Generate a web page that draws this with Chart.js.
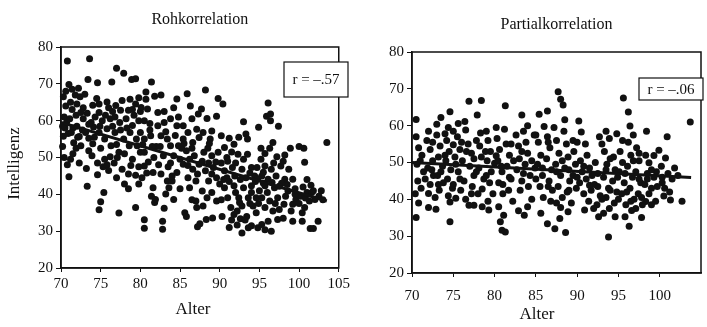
<!DOCTYPE html>
<html>
<head>
<meta charset="utf-8">
<script src="https://cdn.jsdelivr.net/npm/chart.js@4.4.0/dist/chart.umd.min.js"></script>
<style>
  body { margin: 0; background: #fff; width: 707px; height: 327px; overflow: hidden; position: relative; }
  canvas { position: absolute; top: 0; }
</style>
</head>
<body>
<canvas id="roh" width="353" height="327" style="left:0"></canvas>
<canvas id="part" width="354" height="327" style="left:353px"></canvas>
<script>
// Achsen
const alterTicksRoh = [70, 75, 80, 85, 90, 95, 100, 105];
const alterTicksPart = [70, 75, 80, 85, 90, 95, 100];
const intelTicks = [20, 30, 40, 50, 60, 70, 80];

// Rohkorrelation: [Alter, Intelligenz]
const rohPunkte = [
  [70.8,76.2],[70.3,66.5],[70.6,68],[71.0,69.8],[71.4,68.5],[71.8,67],[72.2,68.8],[72.4,66.5],[70.4,61],[70.7,59.5],
  [71.1,60.5],[71.5,58],[71.9,61.5],[70.3,55.8],[70.9,56.5],[71.6,54],[72.1,55.5],[70.4,50],[70.8,48],[71.2,49.5],
  [71.0,44.8],[71.9,52.5],[72.3,48.5],[70.2,53],[71.4,63],[70.6,64],
  [73.6,76.8],[73.4,71.2],[73.0,67.2],[74.0,64.2],[74.8,64.5],[73.3,62],[72.8,60.5],[74.3,61],[74.1,58.3],[73.1,56.8],
  [74.8,56.8],[74.0,53.7],[75.0,52.5],[73.5,51.8],[73.2,47],[73.3,42.2],[74.6,48.5],[74.6,45.3],[75.0,38],[74.8,35.8],
  [75.4,40.5],[72.3,55.7],[72.5,53.2],[73.8,59.5],[72.8,63.5],[74.5,66],[74.6,70.3],[75.2,60],[75.5,55],[73.9,50.5],
  [75.3,47.5],[75.5,49.5],
  [76.4,70.5],[77.0,74.2],[77.9,72.9],[78.9,71.2],[79.4,71.4],[76.9,64.1],[77.7,65.5],[78.7,65.8],[79.4,64.5],[79.8,66.2],
  [80.0,62.5],[75.8,65.1],[76.2,60.5],[77.4,59.5],[78.2,60.5],[79.0,58.7],[79.8,60],[75.8,57.8],[76.8,56.8],[77.9,55],
  [78.7,56.8],[79.5,55],[76.3,53.2],[77.3,51.4],[78.6,53.2],[79.6,53.2],[80.0,51.4],[76.2,50.2],[75.8,48],[77.1,50],
  [77.7,46.8],[78.5,45.5],[78.0,42.8],[78.5,41.5],[79.8,42.8],[79.4,45.2],[77.3,34.9],[79.4,36.4],[76.5,62.5],[78.5,62.8],
  [77.5,57.5],[80.0,56.8],[76.0,46.5],[77.0,44.5],
  [80.7,67.8],[81.4,70.5],[80.7,65.8],[80.1,63.6],[80.9,63.2],[81.8,66.6],[82.6,67],[82.2,58.6],[83.0,59.5],[83.8,60.5],
  [84.2,63.5],[84.6,65.9],[84.6,58.6],[80.5,55],[81.3,55.9],[82.6,55.9],[83.4,55],[83.8,53.2],[84.8,53.2],[80.5,51.4],
  [81.7,50],[82.9,50.5],[84.2,50.5],[85.0,49.5],[80.5,47.7],[81.6,45.9],[82.6,45.5],[83.4,43.6],[84.6,45.9],[81.6,41.8],
  [81.4,39.5],[81.8,37.8],[81.9,38.6],[80.5,33.1],[80.5,30.8],[82.8,32.7],[82.8,30.5],[83.0,36.2],[83.2,40.1],[83.6,41.8],
  [84.0,43.6],[84.2,38.6],[81.0,48.8],[82.0,53],[83.5,47.5],[80.2,44.5],[82.2,62.2],[81.2,59.2],
  [85.9,67.3],[86.3,64],[87.7,63.2],[87.3,61.8],[88.2,68.3],[88.4,60.6],[89.6,61.2],[89.8,66],[85.4,58.6],[86.0,56.8],
  [87.1,57.7],[87.9,56.8],[89.0,57.2],[85.4,55],[86.6,54.1],[87.4,55.4],[88.8,55],[85.8,51.8],[86.8,50.5],[88.0,51.4],
  [89.0,50.5],[89.8,51.4],[85.4,48.2],[86.6,46.8],[87.4,48.2],[88.2,46.4],[89.2,47.3],[86.0,44.5],[87.0,43.6],[88.6,43.6],
  [89.6,44.5],[86.2,41.8],[87.8,40.9],[89.0,40.5],[87.0,38.2],[88.4,39.1],[89.6,38.2],[85.6,35],[85.8,34],[87.2,31.2],
  [87.5,32],[88.3,33.2],[89.1,33.6],[87.1,36.4],[87.9,36.8],[86.5,60.5],[88.5,52.5],[85.2,52.5],
  [90.4,64.5],[90.2,55.9],[91.2,55.2],[92.4,55.5],[93.0,59.7],[93.3,56.4],[93.5,55],[94.9,58.2],[90.6,52.7],[91.8,53.6],
  [90.9,50],[92.3,50.9],[93.5,50.9],[90.6,46.4],[91.6,47.3],[92.8,46.8],[94.0,47.3],[90.9,44.5],[91.9,45],[93.3,44.5],
  [94.4,45],[90.6,41.8],[91.8,42.3],[93.0,41.8],[94.0,42.3],[91.0,39.1],[92.4,39.1],[93.6,39.1],[94.6,39.1],[91.4,36.4],
  [92.8,36.8],[94.2,36.8],[91.8,34.5],[93.4,34],[94.6,35],[91.2,31],[92.2,31.7],[92.8,29.5],[93.6,30.9],[94.0,31.5],
  [94.8,30.9],[90.3,34],[91.5,33],[92.6,33.4],[93.2,33],[90.5,44],[92.0,48.5],[94.5,43.5],[93.8,37.5],
  [96.1,64.8],[95.9,61.2],[96.4,61.8],[96.4,60],[97.4,58.5],[95.2,52.5],[96.3,52.5],[96.7,54.1],[95.7,51.1],[97.2,50.2],
  [98.2,50.7],[98.9,52.5],[95.2,49.5],[94.7,47.3],[95.7,47.7],[96.5,46.8],[97.7,47.7],[98.7,46.8],[95.3,45],[96.1,44.1],
  [97.1,45],[98.2,44.1],[99.2,44.1],[95.7,42.3],[96.9,41.8],[98.5,42.7],[95.3,39.1],[96.3,38.2],[97.3,39.1],[98.1,37.3],
  [98.6,40.9],[99.2,37.3],[99.6,38.6],[95.7,36.4],[96.7,35.5],[97.5,35.9],[96.1,32.7],[97.3,33.2],[95.7,30.4],[96.5,30],
  [95.3,31.8],[99.2,32.7],[97.8,43],[99.5,41.5],[98.0,49],
  [100.0,53],[100.6,52.5],[100.7,48.7],[103.5,54.1],[100.4,35],[100.7,36.4],[100.4,32.7],[101.4,30.7],[101.8,30.7],[102.4,32.7],
  [101.0,40.5],[101.6,40.5],[101.8,41],[102.8,41],[102.0,38.6],[101.3,38.2],[100.2,39.5],[100.5,42],[101.0,44],[102.5,39.5],
  [103.0,38.5],
  [70.5,58],[71.3,56.8],[72.0,58.5],[72.7,57.5],[73.5,59],[74.2,55.5],[74.9,58.5],[75.6,61.5],[76.0,63.5],[76.8,61],
  [77.5,62.8],[78.3,58],[79.2,61.5],[79.0,63],[76.5,58.5],[77.0,53.5],[78.0,51],[79.0,49.5],[79.8,47.5],[76.7,48.5],
  [80.5,60],[81.2,57.5],[82.5,53],[83.2,57],[84.4,56],[85.5,53.8],[84.8,61],[83.0,62.5],[81.5,53],[80.3,53.5],
  [82.3,48],[83.8,48.5],[84.0,45],[86.2,49.5],[87.8,49],[86.5,52.5],[88.6,48.5],[89.5,48.8],[87.2,45.5],[89.0,45.5],
  [90.2,48.5],[91.0,49],[92.6,44],[93.8,45.8],[94.8,44.2],[95.5,43],[96.6,43.2],[97.5,42.2],[96.0,40.5],[97.0,37.5],
  [98.3,39.5],[99.5,40],[100.8,39],[95.0,41],[94.0,40.5],[92.0,40.5],[91.2,43.5],[90.0,42.8],[92.5,37.8],[94.9,37.5],
  [96.8,48.5],[95.5,46],[93.0,49.5],[91.5,51.5],[88.7,53.8],[86.0,47.8],[73.5,55.2],[72.5,62.2],[71.2,65],[72.0,64.5],
  [74.8,62.2],[70.2,58.5],[71.5,51],[78.8,47.8],[80.8,45.8],[85.0,41.5],[86.5,38.5],[90.2,38.5],[92.2,35.5],[99.0,35.5],
  [98.0,33.5],[100.0,37.5],[101.5,42.5]
];
const rohLinie = [[70, 59.5], [103.5, 38.2]];

// Partialkorrelation: [Alter, Intelligenz]
const partPunkte = [
  [76.9,66.6],[78.4,66.8],[81.3,65.4],[74.6,63.8],[73.5,62.2],[75.6,60.6],[76.4,61.1],[77.9,62.9],[83.3,62.9],[85.4,63.1],
  [86.4,64],[87.7,69.2],[88.0,67.2],[88.3,65.6],[90.2,61.3],[90.5,58.3],[88.5,61.6],[95.6,67.5],[96.2,63.7],[96.4,59.9],
  [98.4,58.5],[100.9,57],[103.7,61],[70.5,61.7],[72.0,58.5],[73.0,60.4],[75.0,58.5],[78.3,58],
  [70.5,35.1],[72.0,41.6],[72.0,37.8],[72.9,37.3],[74.6,33.9],[74.6,39.3],[75.3,40.3],[76.9,38.4],[77.5,38.4],[78.5,38],
  [79.3,37.1],[80.5,38],[80.7,33.9],[80.9,31.6],[81.3,31.1],[81.1,35.7],[82.9,36.9],[83.6,35.7],[85.6,36.2],[86.4,33.4],
  [87.3,32],[88.6,31],[87.9,34.8],[88.9,36.6],[90.9,37.1],[92.6,35.3],[93.2,36.2],[93.8,29.8],[94.6,35.3],[95.8,35.3],
  [96.3,32.7],[97.1,37.5],[97.8,35.1],[98.3,39.4],[99.5,39.5],[100.5,40.9],[101.3,39.8],[102.7,39.5],[101.8,48.5],[100.7,51.2],
  [99.9,53.3],[99.3,51.9],[98.7,49.9],
  [70.5,57],[70.8,54],[71.2,52],[70.6,49.5],[71.4,47.5],[70.7,45],[71.1,43],[70.4,41.5],[71.8,56],[72.2,53.5],
  [72.5,50.5],[71.9,48.5],[72.6,46.5],[72.2,44],[73.0,57.5],[73.4,54.5],[73.2,51.5],[73.7,49],[73.1,46.5],[73.8,44.5],
  [73.3,42.5],[74.2,56],[74.5,53],[74.1,50.5],[74.7,48],[74.3,45.5],[74.9,43],[74.4,41],[75.0,54.8],[75.2,51.5],
  [72.8,40.5],[74.4,59.5],
  [75.5,57],[75.8,53.5],[76.1,50.5],[75.6,47.5],[76.3,45],[75.9,42.5],[76.5,40],[76.8,55],[77.2,52.5],[77.0,49],
  [77.5,46.5],[77.3,43.5],[78.0,41.5],[78.2,54.5],[78.4,51.5],[78.1,48.5],[78.7,45.5],[78.5,42.8],[79.2,56],[79.5,53],
  [79.1,50.5],[79.6,47.5],[79.4,44.5],[79.8,41.5],[80.0,49.8],[79.0,58.5],[76.5,58.8],
  [80.3,56.5],[80.6,53.5],[80.4,50.5],[80.9,47.5],[80.5,44.5],[81.0,41.5],[81.4,55],[81.8,52],[81.5,49],[82.0,45.5],
  [81.7,42.5],[82.2,39.5],[82.6,57.5],[82.9,54.5],[83.0,51],[82.7,48],[83.3,45],[83.1,42.5],[83.8,55.5],[84.0,52.5],
  [83.7,49.5],[84.3,46.5],[84.1,43.5],[84.5,40],[84.8,57.5],[84.9,48.5],[81.2,59],[83.5,58.5],
  [85.3,55.5],[85.6,52],[85.2,49.5],[85.8,46.5],[85.5,43.5],[85.9,40.5],[86.4,57],[86.7,54],[86.3,51],[86.9,48],
  [86.6,45],[87.0,42.5],[86.8,39.5],[87.5,56],[87.8,52.5],[87.4,49.5],[88.0,46.5],[87.7,43.5],[88.2,40.5],[88.7,55],
  [88.9,51.5],[88.5,48.5],[89.1,45],[88.8,42],[89.3,39],[89.6,53],[89.8,49.5],[89.5,46.5],[89.9,43],[87.2,59.5],
  [88.4,58.5],
  [90.4,50.5],[90.6,47.5],[90.3,44.5],[90.8,41.5],[91.2,52],[91.5,48.5],[91.1,45.5],[91.7,42.5],[91.4,39.5],[92.2,50],
  [92.5,47],[92.1,44],[92.8,41],[92.4,38.5],[93.0,55],[93.3,53],[93.6,49.5],[93.2,46],[93.8,43],[93.5,40.5],
  [93.9,37.5],[94.4,51.5],[94.6,48],[94.3,45],[94.8,42],[94.5,39],[92.7,57],[93.9,56.5],[91.0,55],[94.8,57.8],
  [95.2,53],[95.5,50],[95.1,47.5],[95.7,44.5],[95.4,41.5],[95.9,38.5],[96.2,55.5],[96.5,52],[96.1,49],[96.7,46],
  [96.4,43],[96.9,40],[96.6,37],[97.2,54],[97.5,50.5],[97.1,47.5],[97.7,44.5],[97.4,41.5],[97.9,38.5],[98.3,52],
  [98.5,47],[98.2,44],[98.7,41.5],[99.0,38.5],[99.3,46],[99.7,43.5],[99.6,47.5],[96.8,57.5],
  [100.3,46],[100.6,43],[101.0,47],[101.5,45.5],[102.2,46.5],[101.2,42],[100.2,49],
  [71.0,50.5],[71.6,45.5],[72.4,48],[73.5,47.5],[74.0,52],[75.3,49.5],[75.8,45.5],[76.6,53],[77.5,51],[77.8,47.5],
  [78.9,53],[79.0,46.5],[80.2,51.8],[80.8,49],[81.8,46],[82.3,50.5],[83.3,53],[83.5,47],[84.5,50.5],[85.0,45.5],
  [85.8,48.5],[86.5,43.5],[87.5,47.5],[88.2,50.5],[89.0,48],[90.0,46],[90.8,49],[91.8,46.5],[92.5,43.5],[93.5,48],
  [94.0,51],[94.9,46],[95.8,47],[96.8,50.5],[97.5,45.5],[98.5,45.5],[99.0,43],[91.5,43.8],[93.0,40],[95.0,40],
  [96.0,42],[97.8,40.5],[70.8,39],[72.5,55.5],[75.0,44],[77.2,41.5],[79.2,39.5],[84.0,38],[85.0,57.5],[86.5,55.5],
  [89.5,56],[84.0,60],[80.2,59.5],[77.8,56],[74.0,57.8],[82.0,55],[86.0,59.8],[90.0,55.5],[93.5,58.5],[95.5,56],
  [97.5,52.5],[99.0,48],[100.3,44.5],[73.2,44],[76.0,55.5],[81.0,44],[88.0,37.8],[92.0,37.5],[94.0,42.5],[89.0,42.5],
  [87.5,39],[96.5,39.5]
];
const partLinie = [[70, 50.0], [103.8, 45.9]];

const ink = '#111';
const serif = '"Liberation Serif", "DejaVu Serif", serif';

const decor = {
  id: 'decor',
  afterDraw(chart, args, o) {
    const { ctx, chartArea: a } = chart;
    ctx.save();
    ctx.strokeStyle = ink;
    ctx.lineWidth = 1.5;
    ctx.strokeRect(a.left, a.top, a.right - a.left, a.bottom - a.top);
    ctx.fillStyle = ink;
    ctx.textAlign = 'center';
    ctx.textBaseline = 'middle';
    ctx.font = '16px ' + serif;
    ctx.fillText(o.title, (a.left + a.right) / 2, o.titleY);
    ctx.font = '17px ' + serif;
    ctx.fillText('Alter', o.xTitleX, o.xTitleY);
    if (o.yTitle) {
      ctx.save();
      ctx.translate(o.yTitleX, (a.top + a.bottom) / 2 + 6);
      ctx.rotate(-Math.PI / 2);
      ctx.fillText(o.yTitle, 0, 0);
      ctx.restore();
    }
    const b = o.box;
    ctx.fillStyle = '#fff';
    ctx.fillRect(b.x, b.y, b.w, b.h);
    ctx.lineWidth = 1.2;
    ctx.strokeRect(b.x, b.y, b.w, b.h);
    ctx.fillStyle = ink;
    ctx.font = '15px ' + serif;
    ctx.fillText(o.r, b.x + b.w / 2, b.y + b.h / 2 + 1);
    ctx.restore();
  }
};

function streuChart(id, punkte, linie, xTicks, o) {
  const tickFont = { family: serif, size: 15 };
  return new Chart(document.getElementById(id), {
    type: 'scatter',
    data: {
      datasets: [
        {
          data: linie.map(p => ({ x: p[0], y: p[1] })),
          showLine: true, borderColor: ink, borderWidth: 3, pointRadius: 0, order: 0
        },
        {
          data: punkte.map(p => ({ x: p[0], y: p[1] })),
          backgroundColor: ink, borderWidth: 0, pointRadius: 3.5, order: 1, clip: 4
        }
      ]
    },
    options: {
      responsive: false,
      animation: false,
      layout: { padding: { top: o.top, right: 6, bottom: 0, left: 0 } },
      plugins: { legend: { display: false }, tooltip: { enabled: false }, decor: o },
      scales: {
        x: {
          type: 'linear', min: 70, max: 105,
          afterBuildTicks: s => { s.ticks = xTicks.map(v => ({ value: v })); },
          afterFit: s => { s.height = o.xHeight; },
          grid: { drawOnChartArea: false, tickLength: 4, color: ink },
          border: { color: ink, width: 1.5 },
          ticks: { font: tickFont, color: ink, padding: o.xPad, maxRotation: 0, autoSkip: false }
        },
        y: {
          type: 'linear', min: 20, max: 80,
          afterBuildTicks: s => { s.ticks = intelTicks.map(v => ({ value: v })); },
          afterFit: s => { s.width = o.yWidth; },
          grid: { drawOnChartArea: false, tickLength: 5, color: ink },
          border: { color: ink, width: 1.5 },
          ticks: { font: tickFont, color: ink, padding: 3, autoSkip: false }
        }
      }
    },
    plugins: [decor]
  });
}

streuChart('roh', rohPunkte, rohLinie, alterTicksRoh, {
  top: 47, xHeight: 59, yWidth: 61, xPad: 3,
  title: 'Rohkorrelation', titleY: 20,
  xTitleX: 193, xTitleY: 310,
  yTitle: 'Intelligenz', yTitleX: 15,
  box: { x: 284, y: 62, w: 64, h: 35 }, r: 'r = \u2013.57'
});

streuChart('part', partPunkte, partLinie, alterTicksPart, {
  top: 52, xHeight: 54, yWidth: 59, xPad: 10,
  title: 'Partialkorrelation', titleY: 25,
  xTitleX: 184, xTitleY: 315,
  yTitle: null,
  box: { x: 286, y: 78, w: 64, h: 22 }, r: 'r = \u2013.06'
});
</script>
</body>
</html>
